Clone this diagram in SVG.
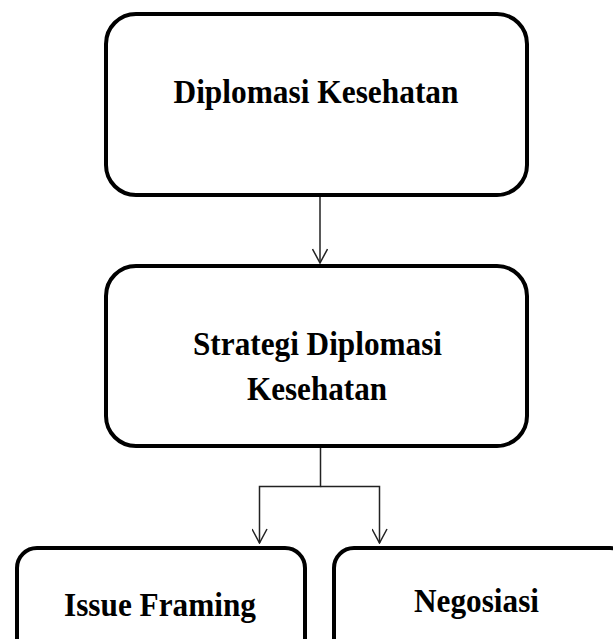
<svg xmlns="http://www.w3.org/2000/svg" width="613" height="639" viewBox="0 0 613 639">
<style>
.box{fill:#fff;stroke:#000;stroke-width:4}
.lbl{font-family:"Liberation Serif","Times New Roman",serif;font-weight:bold;font-size:34px;fill:#000;text-anchor:middle}
.conn{fill:none;stroke:#222;stroke-width:1.5}
</style>
<defs>
<marker id="arr" viewBox="0 0 16 16" refX="15" refY="8" markerWidth="16" markerHeight="16" markerUnits="userSpaceOnUse" orient="auto">
<path d="M1,0.5 L15,8 L1,15.5" fill="none" stroke="#222" stroke-width="1.5"/>
</marker>
</defs>
<rect width="613" height="639" fill="#fff"/>
<g id="connectors">
<path class="conn" d="M320,197 V263" marker-end="url(#arr)"/>
<path class="conn" d="M320.5,448 V486.5 H259.5 V543" marker-end="url(#arr)"/>
<path class="conn" d="M320.5,486.5 H379.5 V543" marker-end="url(#arr)"/>
</g>
<g id="node-diplomasi">
<rect class="box" x="106" y="14" width="421" height="181" rx="30"/>
<text class="lbl" x="316" y="103" textLength="285" lengthAdjust="spacingAndGlyphs">Diplomasi Kesehatan</text>
</g>
<g id="node-strategi">
<rect class="box" x="106" y="266" width="421" height="180" rx="30"/>
<text class="lbl" x="317.5" y="355" textLength="249" lengthAdjust="spacingAndGlyphs">Strategi Diplomasi</text>
<text class="lbl" x="317" y="400" textLength="140" lengthAdjust="spacingAndGlyphs">Kesehatan</text>
</g>
<g id="node-issue">
<rect class="box" x="17" y="548" width="288" height="130" rx="20"/>
<text class="lbl" x="160" y="616" textLength="192" lengthAdjust="spacingAndGlyphs">Issue Framing</text>
</g>
<g id="node-negosiasi">
<rect class="box" x="334" y="548" width="296" height="130" rx="20"/>
<text class="lbl" x="476.5" y="612" textLength="125" lengthAdjust="spacingAndGlyphs">Negosiasi</text>
</g>
</svg>
